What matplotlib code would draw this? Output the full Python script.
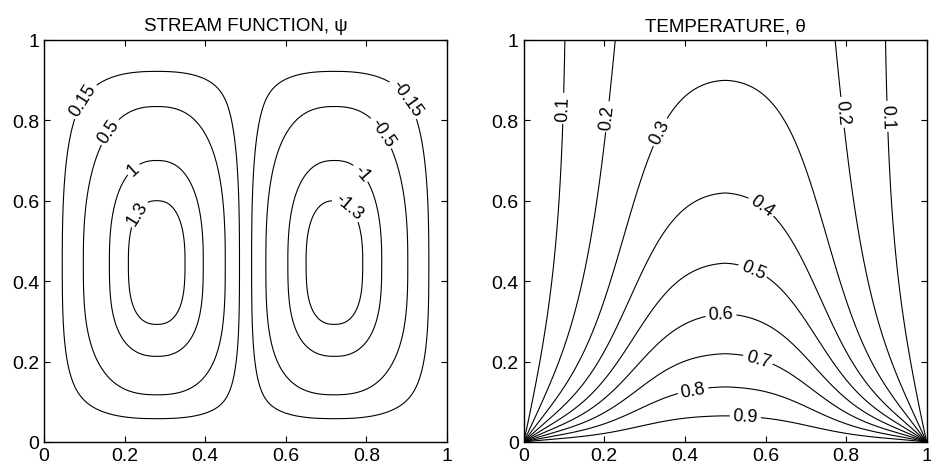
import numpy as np
import matplotlib.pyplot as plt

plt.rcParams['font.family'] = ['Liberation Sans', 'DejaVu Sans']
plt.rcParams['axes.unicode_minus'] = False
plt.rcParams['contour.negative_linestyle'] = 'solid'

# contour levels and axis ticks
psi_levels = [-1.3, -1.0, -0.5, -0.15, 0.15, 0.5, 1.0, 1.3]
psi_labels = {-1.3: '-1.3', -1.0: '-1', -0.5: '-0.5', -0.15: '-0.15',
              0.15: '0.15', 0.5: '0.5', 1.0: '1', 1.3: '1.3'}
theta_levels = [0.1, 0.2, 0.3, 0.4, 0.5, 0.6, 0.7, 0.8, 0.9]
theta_labels = {v: '%g' % v for v in theta_levels}
ticks = [0, 0.2, 0.4, 0.6, 0.8, 1]
tick_labels = ['0', '0.2', '0.4', '0.6', '0.8', '1']

# cell shape (peak value, centre, widths) estimated from the contour crossings
psi_peak = 1.45
cell_x, cell_y = 0.28, 0.45

n = 241
x = np.linspace(0, 1, n)
y = np.linspace(0, 1, n)
X, Y = np.meshgrid(x, y)


def bump(d, w, p):
    return np.exp(-(np.abs(d) / w) ** p)


# stream function: two counter-rotating cells
fx = bump(X - cell_x, 0.178, 2.4) - bump(X - (1 - cell_x), 0.178, 2.4)
fx *= (1 - np.exp(-(X / 0.04) ** 2)) * (1 - np.exp(-((1 - X) / 0.04) ** 2))
dy = Y - cell_y
gy = np.where(dy < 0, bump(dy, 0.3296, 3.0), bump(dy, 0.378, 2.4))
gy *= (1 - np.exp(-(Y / 0.0644) ** 2)) * (1 - np.exp(-((1 - Y) / 0.0853) ** 2))
psi = psi_peak * fx * gy

# temperature: hot bottom, cold sides, plume pushed up in the middle
u = np.abs(X - 0.5)
s = 1.1 + 2.5 * np.exp(-((u - 0.4) / 0.18) ** 2)
ytop = 0.458 + 0.024 * np.exp(-(u / 0.2) ** 2)
Yw = ytop * (1 - np.exp(-s * Y)) / (1 - np.exp(-s))
theta = 2 / np.pi * np.arctan2(np.sin(np.pi * X), np.sinh(np.pi * Yw))

fig = plt.figure(figsize=(9.31, 4.77), dpi=100)
ax1 = fig.add_axes([0.0473, 0.0713, 0.4329, 0.8428])
ax2 = fig.add_axes([0.5625, 0.0713, 0.4329, 0.8428])

cs1 = ax1.contour(X, Y, psi, levels=psi_levels, colors='k', linewidths=0.8)
ax1.clabel(cs1, fmt=psi_labels, fontsize=13, inline=True, inline_spacing=3,
           manual=[(0.08, 0.86), (0.15, 0.78), (0.22, 0.68), (0.23, 0.57),
                   (0.92, 0.87), (0.855, 0.78), (0.80, 0.68), (0.76, 0.59)])
ax1.set_title('STREAM FUNCTION, ψ', fontsize=13.5, pad=7)

cs2 = ax2.contour(X, Y, theta, levels=theta_levels, colors='k', linewidths=0.8)
ax2.clabel(cs2, fmt=theta_labels, fontsize=13, inline=True, inline_spacing=3,
           manual=[(0.1, 0.83), (0.9, 0.81), (0.2, 0.81), (0.79, 0.82),
                   (0.34, 0.77), (0.6, 0.6), (0.57, 0.43), (0.49, 0.31),
                   (0.58, 0.2), (0.42, 0.13), (0.55, 0.065)])
ax2.set_title('TEMPERATURE, θ', fontsize=13.5, pad=7)

for ax in (ax1, ax2):
    ax.set_xlim(0, 1)
    ax.set_ylim(0, 1)
    ax.set_xticks(ticks)
    ax.set_xticklabels(tick_labels)
    ax.set_yticks(ticks)
    ax.set_yticklabels(tick_labels)
    ax.tick_params(direction='in', top=True, right=True, length=4,
                   labelsize=14, width=0.8)
    for sp in ax.spines.values():
        sp.set_linewidth(1.0)

fig.savefig('out.png', dpi=100)
